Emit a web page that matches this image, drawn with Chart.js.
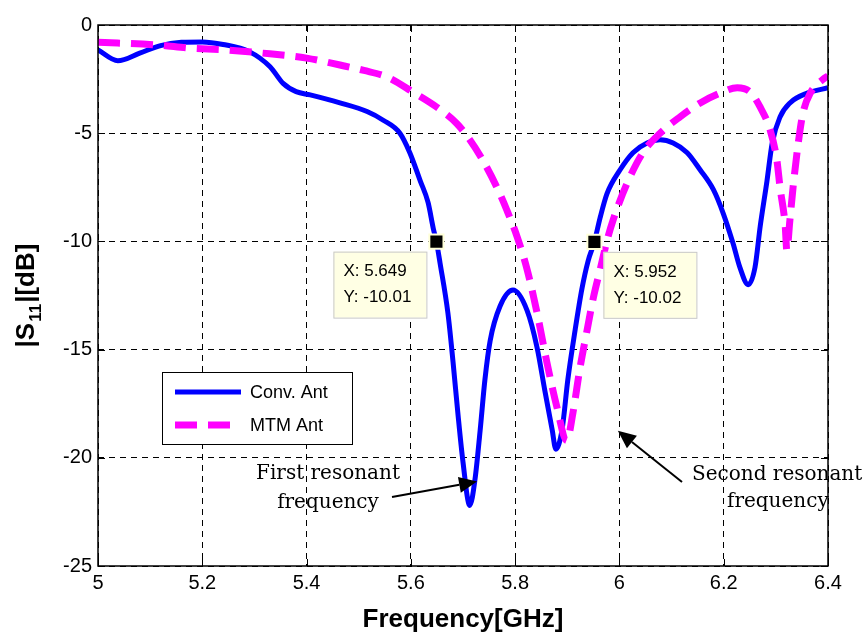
<!DOCTYPE html>
<html>
<head>
<meta charset="utf-8">
<script src="https://cdn.jsdelivr.net/npm/chart.js@4.4.1/dist/chart.umd.min.js"></script>
<style>
  html, body { margin: 0; padding: 0; background: #fff; }
  #wrap { width: 868px; height: 632px; }
</style>
</head>
<body>
<div id="wrap"><canvas id="s11Chart" width="868" height="632"></canvas></div>
<script>
// Return loss data (GHz, dB)
var convFreq = [5.000, 5.038, 5.080, 5.120, 5.160, 5.200, 5.240, 5.290, 5.330, 5.355,
  5.380, 5.407, 5.464, 5.516, 5.547, 5.579, 5.598, 5.618, 5.633, 5.643,
  5.649, 5.656, 5.671, 5.681, 5.690, 5.700, 5.713, 5.723, 5.733, 5.742,
  5.752, 5.771, 5.796, 5.823, 5.842, 5.857, 5.871, 5.878, 5.890, 5.901,
  5.915, 5.928, 5.940, 5.952, 5.963, 5.976, 6.001, 6.026, 6.053, 6.078,
  6.103, 6.130, 6.155, 6.180, 6.199, 6.218, 6.231, 6.247, 6.260, 6.270,
  6.283, 6.293, 6.308, 6.327, 6.360, 6.400];
var convS11 = [-1.15, -1.65, -1.3, -0.95, -0.8, -0.78, -0.9, -1.23, -1.93, -2.7,
  -3.08, -3.23, -3.6, -4.0, -4.4, -5.0, -5.9, -7.2, -8.2, -9.4,
  -10.01, -11.0, -13.3, -15.6, -17.9, -20.2, -22.2, -21.0, -18.7, -16.4,
  -14.6, -13.0, -12.25, -13.2, -14.9, -16.9, -18.7, -19.6, -18.7, -16.4,
  -14.1, -12.2, -10.9, -10.02, -8.9, -7.8, -6.7, -5.9, -5.45, -5.3,
  -5.45, -5.9, -6.7, -7.6, -8.7, -10.1, -11.2, -12.0, -11.2, -9.3,
  -7.2, -5.45, -4.25, -3.6, -3.15, -2.9];

var mtmFreq = [5.000, 5.113, 5.176, 5.240, 5.316, 5.400, 5.464, 5.510, 5.554, 5.604,
  5.650, 5.688, 5.713, 5.738, 5.765, 5.784, 5.804, 5.823, 5.842, 5.861,
  5.880, 5.899, 5.911, 5.924, 5.938, 5.950, 5.963, 5.978, 5.988, 6.015,
  6.045, 6.078, 6.116, 6.155, 6.193, 6.226, 6.251, 6.270, 6.289, 6.302,
  6.308, 6.318, 6.321, 6.327, 6.333, 6.343, 6.352, 6.366, 6.391, 6.400];
var mtmS11 = [-0.8, -0.92, -1.07, -1.15, -1.3, -1.53, -1.85, -2.1, -2.4, -3.1,
  -3.8, -4.55, -5.3, -6.25, -7.5, -8.55, -9.8, -11.3, -13.3, -15.6,
  -17.65, -19.2, -17.9, -15.9, -14.1, -12.6, -11.3, -9.8, -9.0, -7.3,
  -5.9, -5.0, -4.25, -3.6, -3.15, -2.9, -3.1, -3.8, -4.85, -6.25,
  -7.5, -9.3, -10.4, -9.0, -7.5, -5.45, -4.07, -3.15, -2.5, -2.35];

var seriesNames = ['Conv. Ant', 'MTM Ant'];

// MATLAB data tips
var tipFreq = [5.649, 5.952];
var tipS11 = [-10.01, -10.02];
var tipSide = ['left', 'right'];

var xTicks = [5, 5.2, 5.4, 5.6, 5.8, 6, 6.2, 6.4];
var yTicks = [0, -5, -10, -15, -20, -25];

function pairs(xs, ys) {
  return xs.map(function (x, i) { return { x: x, y: ys[i] }; });
}

var FONT = 'Arial, "Liberation Sans", sans-serif';
var SERIF = '"DejaVu Serif", "Liberation Serif", serif';

// Box, inward tick marks, axis titles, legend, data tip boxes and arrows
var matlabPlugin = {
  id: 'matlab',
  afterDatasetsDraw: function (chart) {
    var ctx = chart.ctx;
    var a = chart.chartArea;
    var xs = chart.scales.x, ys = chart.scales.y;
    ctx.save();

    // axes box
    ctx.strokeStyle = '#000';
    ctx.lineWidth = 1.5;
    ctx.setLineDash([]);
    ctx.strokeRect(a.left, a.top, a.right - a.left, a.bottom - a.top);

    // inward ticks
    ctx.lineWidth = 1;
    ctx.beginPath();
    xTicks.forEach(function (v) {
      var px = Math.round(xs.getPixelForValue(v)) + 0.5;
      ctx.moveTo(px, a.bottom); ctx.lineTo(px, a.bottom - 7);
      ctx.moveTo(px, a.top); ctx.lineTo(px, a.top + 7);
    });
    yTicks.forEach(function (v) {
      var py = Math.round(ys.getPixelForValue(v)) + 0.5;
      ctx.moveTo(a.left, py); ctx.lineTo(a.left + 7, py);
      ctx.moveTo(a.right, py); ctx.lineTo(a.right - 7, py);
    });
    ctx.stroke();

    // data tip boxes
    tipFreq.forEach(function (f, i) {
      var px = xs.getPixelForValue(f);
      var py = ys.getPixelForValue(tipS11[i]);
      var w = 93, h = 66;
      var bx = tipSide[i] === 'left' ? px - 10 - w : px + 9;
      var by = py + 10;
      ctx.fillStyle = '#FFFFE4';
      ctx.fillRect(bx, by, w, h);
      ctx.strokeStyle = '#C8C8C8';
      ctx.lineWidth = 1;
      ctx.strokeRect(bx + 0.5, by + 0.5, w, h);
      ctx.fillStyle = '#000';
      ctx.font = '17px ' + FONT;
      ctx.textAlign = 'left';
      ctx.textBaseline = 'middle';
      ctx.fillText('X: ' + f.toFixed(3), bx + 10, by + 20);
      ctx.fillText('Y: ' + tipS11[i].toFixed(2), bx + 10, by + 46);
    });

    // legend
    var lx = a.left + 64, ly = a.top + 347;
    ctx.fillStyle = '#fff';
    ctx.fillRect(lx, ly, 190, 72);
    ctx.strokeStyle = '#000';
    ctx.lineWidth = 1;
    ctx.strokeRect(lx + 0.5, ly + 0.5, 190, 72);
    chart.data.datasets.slice(0, 2).forEach(function (ds, i) {
      var yy = ly + 20 + i * 33;
      ctx.strokeStyle = ds.borderColor;
      ctx.lineWidth = ds.borderWidth;
      ctx.setLineDash(ds.borderDash || []);
      ctx.beginPath();
      ctx.moveTo(lx + 13, yy);
      ctx.lineTo(lx + 79, yy);
      ctx.stroke();
      ctx.setLineDash([]);
      ctx.fillStyle = '#000';
      ctx.font = '18px ' + FONT;
      ctx.textAlign = 'left';
      ctx.textBaseline = 'middle';
      ctx.fillText(ds.label, lx + 88, yy + 1);
    });

    // resonance annotations
    function arrow(x0, y0, x1, y1) {
      var ang = Math.atan2(y1 - y0, x1 - x0);
      var hl = 18, hw = 8;
      var bx = x1 - hl * Math.cos(ang), by = y1 - hl * Math.sin(ang);
      ctx.strokeStyle = '#000';
      ctx.fillStyle = '#000';
      ctx.lineWidth = 2;
      ctx.beginPath();
      ctx.moveTo(x0, y0);
      ctx.lineTo(bx, by);
      ctx.stroke();
      ctx.beginPath();
      ctx.moveTo(x1, y1);
      ctx.lineTo(bx + hw * Math.sin(ang), by - hw * Math.cos(ang));
      ctx.lineTo(bx - hw * Math.sin(ang), by + hw * Math.cos(ang));
      ctx.closePath();
      ctx.fill();
    }
    ctx.font = '20px ' + SERIF;
    ctx.fillStyle = '#000';
    ctx.textAlign = 'center';
    ctx.textBaseline = 'alphabetic';
    ctx.fillText('First resonant', a.left + 230, a.top + 454);
    ctx.fillText('frequency', a.left + 230, a.top + 483);
    arrow(a.left + 294, a.top + 472, xs.getPixelForValue(5.727), ys.getPixelForValue(-21.1));
    ctx.textAlign = 'left';
    ctx.fillText('Second resonant', a.left + 594, a.top + 455);
    ctx.fillText('frequency', a.left + 629, a.top + 482);
    arrow(a.left + 584, a.top + 457, xs.getPixelForValue(5.997), ys.getPixelForValue(-18.75));

    // axis titles
    ctx.fillStyle = '#000';
    ctx.font = 'bold 26px ' + FONT;
    ctx.textAlign = 'center';
    ctx.textBaseline = 'alphabetic';
    ctx.fillText('Frequency[GHz]', (a.left + a.right) / 2, 627);

    ctx.translate(34, (a.top + a.bottom) / 2);
    ctx.rotate(-Math.PI / 2);
    var big = 'bold 26px ' + FONT, small = 'bold 17px ' + FONT;
    ctx.font = big;
    var w1 = ctx.measureText('|S').width;
    var w3 = ctx.measureText('|[dB]').width;
    ctx.font = small;
    var w2 = ctx.measureText('11').width + 2;
    var x0 = -(w1 + w2 + w3) / 2;
    ctx.textAlign = 'left';
    ctx.font = big;
    ctx.fillText('|S', x0, 0);
    ctx.font = small;
    ctx.fillText('11', x0 + w1 + 1, 7);
    ctx.font = big;
    ctx.fillText('|[dB]', x0 + w1 + w2, 0);
    ctx.restore();
  }
};

new Chart(document.getElementById('s11Chart'), {
  type: 'line',
  data: {
    datasets: [
      {
        label: seriesNames[0],
        data: pairs(convFreq, convS11),
        borderColor: '#0000FF',
        borderWidth: 5,
        pointRadius: 0,
        cubicInterpolationMode: 'monotone',
        fill: false,
        order: 2
      },
      {
        label: seriesNames[1],
        data: pairs(mtmFreq, mtmS11),
        borderColor: '#FF00FF',
        borderWidth: 7,
        borderDash: [22, 11],
        pointRadius: 0,
        cubicInterpolationMode: 'monotone',
        fill: false,
        order: 1
      },
      {
        label: 'tips',
        type: 'scatter',
        data: pairs(tipFreq, tipS11),
        pointStyle: 'rect',
        pointRadius: 10,
        backgroundColor: '#000',
        borderColor: '#FFFFD8',
        borderWidth: 2,
        showLine: false,
        order: 0
      }
    ]
  },
  options: {
    responsive: false,
    animation: false,
    events: [],
    layout: { padding: { left: 0, top: 25, right: 40, bottom: 0 } },
    plugins: { legend: { display: false }, tooltip: { enabled: false }, title: { display: false } },
    scales: {
      x: {
        type: 'linear',
        min: 5,
        max: 6.4,
        afterBuildTicks: function (s) { s.ticks = xTicks.map(function (v) { return { value: v }; }); },
        afterFit: function (s) { s.height = 66; },
        grid: { color: '#000', lineWidth: 1, drawTicks: false },
        border: { display: false, dash: [6, 5] },
        ticks: {
          padding: 5,
          color: '#000',
          font: { family: FONT, size: 20 },
          callback: function (v) { return String(Number(v.toFixed(1))); }
        }
      },
      y: {
        type: 'linear',
        min: -25,
        max: 0,
        afterBuildTicks: function (s) { s.ticks = yTicks.map(function (v) { return { value: v }; }); },
        afterFit: function (s) { s.width = 98; },
        grid: { color: '#000', lineWidth: 1, drawTicks: false },
        border: { display: false, dash: [6, 5] },
        ticks: {
          padding: 6,
          color: '#000',
          font: { family: FONT, size: 20 },
          callback: function (v) { return String(v); }
        }
      }
    }
  },
  plugins: [matlabPlugin]
});
</script>
</body>
</html>
